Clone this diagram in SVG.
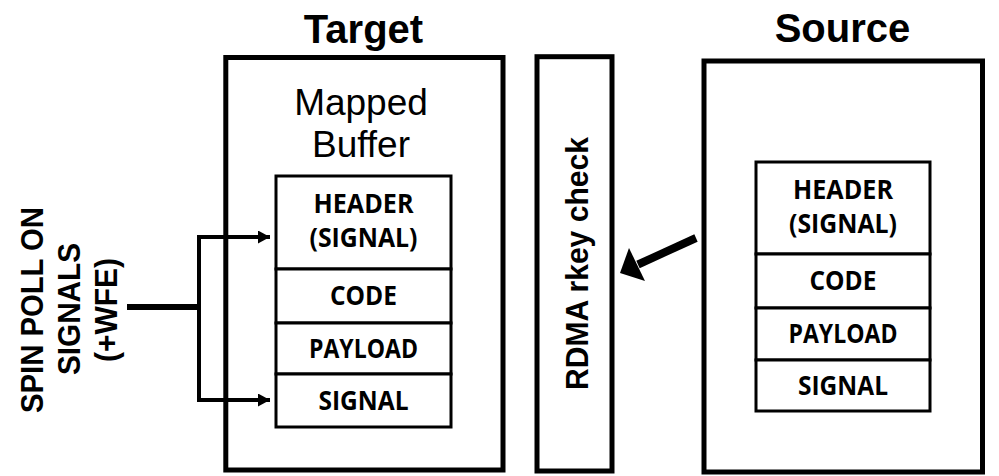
<svg xmlns="http://www.w3.org/2000/svg" width="999" height="476" viewBox="0 0 999 476">
<style>
.box{fill:none;stroke:#000;stroke-width:5}
.cell{fill:#fff;stroke:#000;stroke-width:3}
.title{font-family:"Liberation Sans",Arial,sans-serif;font-weight:bold;font-size:40px;text-anchor:middle;fill:#000}
.lbl{font-family:"Liberation Sans",Arial,sans-serif;font-size:37px;text-anchor:middle;fill:#000}
.rot{font-family:"Liberation Sans",Arial,sans-serif;font-weight:bold;font-size:31px;text-anchor:middle;fill:#000}
.ct{font-family:"Open Sans","Liberation Sans",sans-serif;font-weight:bold;font-size:27px;text-anchor:middle;fill:#000}
.conn{fill:none;stroke:#000}
</style>
<defs>
<marker id="ah" markerWidth="12" markerHeight="13" refX="12" refY="6.5" orient="auto" markerUnits="userSpaceOnUse">
<path d="M0,0 L12,6.5 L0,13 Z" fill="#000"/>
</marker>
</defs>
<rect width="999" height="476" fill="#fff"/>

<g id="target">
<text class="title" x="363.5" y="43">Target</text>
<rect class="box" x="225.8" y="57.5" width="277.2" height="412.5"/>
<text class="lbl" x="361" y="115">Mapped</text>
<text class="lbl" x="361" y="157">Buffer</text>
</g>

<g id="target-buffer">
<rect class="cell" x="276" y="176" width="175" height="93"/>
<rect class="cell" x="276" y="269" width="175" height="54"/>
<rect class="cell" x="276" y="323" width="175" height="51"/>
<rect class="cell" x="276" y="374" width="175" height="53"/>
<text class="ct" x="363.5" y="213" textLength="100" lengthAdjust="spacingAndGlyphs">HEADER</text>
<text class="ct" x="363.5" y="247" textLength="108" lengthAdjust="spacingAndGlyphs">(SIGNAL)</text>
<text class="ct" x="363.5" y="305" textLength="67" lengthAdjust="spacingAndGlyphs">CODE</text>
<text class="ct" x="363.5" y="358" textLength="109" lengthAdjust="spacingAndGlyphs">PAYLOAD</text>
<text class="ct" x="363.5" y="410" textLength="90" lengthAdjust="spacingAndGlyphs">SIGNAL</text>
</g>

<g id="rdma">
<rect class="box" x="537" y="56.7" width="75" height="414.3"/>
<text class="rot" transform="translate(588,263.5) rotate(-90)" font-size="32" textLength="253" lengthAdjust="spacingAndGlyphs">RDMA rkey check</text>
</g>

<g id="source">
<text class="title" x="842.5" y="42">Source</text>
<rect class="box" x="704" y="61" width="278.5" height="411"/>
</g>

<g id="source-buffer">
<rect class="cell" x="756" y="162" width="174" height="92"/>
<rect class="cell" x="756" y="254" width="174" height="54"/>
<rect class="cell" x="756" y="308" width="174" height="52"/>
<rect class="cell" x="756" y="360" width="174" height="51"/>
<text class="ct" x="843" y="199" textLength="100" lengthAdjust="spacingAndGlyphs">HEADER</text>
<text class="ct" x="843" y="233" textLength="108" lengthAdjust="spacingAndGlyphs">(SIGNAL)</text>
<text class="ct" x="843" y="290" textLength="67" lengthAdjust="spacingAndGlyphs">CODE</text>
<text class="ct" x="843" y="343" textLength="109" lengthAdjust="spacingAndGlyphs">PAYLOAD</text>
<text class="ct" x="843" y="395" textLength="90" lengthAdjust="spacingAndGlyphs">SIGNAL</text>
</g>

<g id="spin-poll">
<text class="rot" transform="translate(43,310) rotate(-90)" textLength="206" lengthAdjust="spacingAndGlyphs">SPIN POLL ON</text>
<text class="rot" transform="translate(80,309) rotate(-90)" textLength="132" lengthAdjust="spacingAndGlyphs">SIGNALS</text>
<text class="rot" transform="translate(117,310) rotate(-90)" textLength="104" lengthAdjust="spacingAndGlyphs">(+WFE)</text>
</g>

<g id="connectors">
<line class="conn" x1="127" y1="307" x2="199" y2="307" stroke-width="6"/>
<path class="conn" d="M199,237 V400" stroke-width="4"/>
<path class="conn" d="M197,237 H270" stroke-width="4" marker-end="url(#ah)"/>
<path class="conn" d="M197,400 H270" stroke-width="4" marker-end="url(#ah)"/>
<line class="conn" x1="696" y1="238" x2="638" y2="264.5" stroke-width="8"/>
<polygon points="620,273 629,248 645,281" fill="#000"/>
</g>
</svg>
